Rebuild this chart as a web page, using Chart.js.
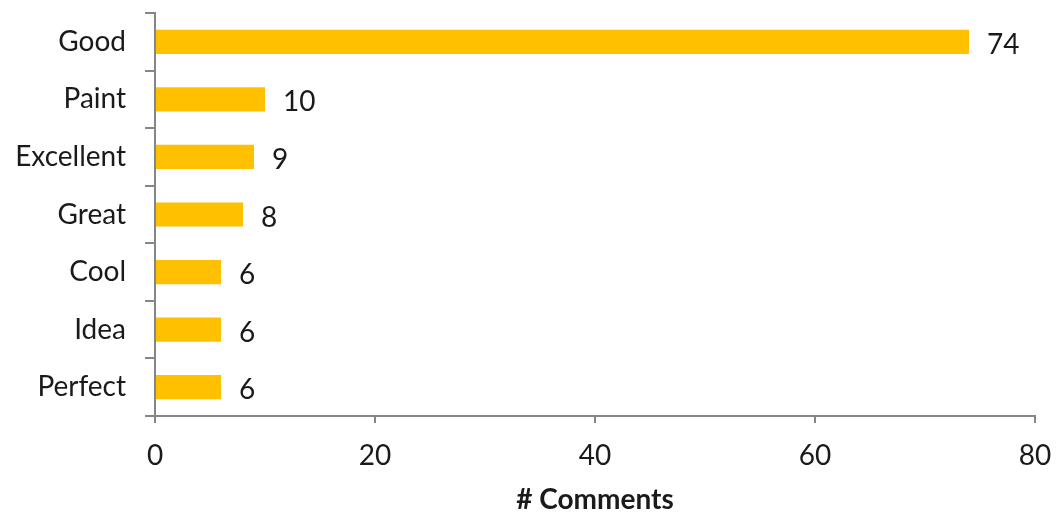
<!DOCTYPE html>
<html>
<head>
<meta charset="utf-8">
<script src="https://cdn.jsdelivr.net/npm/chart.js@4"></script>
<style>
  html, body { margin: 0; padding: 0; background: #ffffff; }
  #wrap { width: 1056px; height: 514px; position: relative; }
</style>
</head>
<body>
<div id="wrap"><canvas id="c" width="1056" height="514"></canvas></div>
<script>
const categories = ["Good", "Paint", "Excellent", "Great", "Cool", "Idea", "Perfect"];
const commentCounts = [74, 10, 9, 8, 6, 6, 6];
const xTickValues = [0, 20, 40, 60, 80];
const xAxisTitle = "# Comments";

const FONT = "Lato, 'Open Sans', sans-serif";
const TEXT = "#1a1a1a";
const AXIS = "#868686";

const dataLabels = {
  id: "dataLabels",
  afterDatasetsDraw(chart) {
    const ctx = chart.ctx;
    const meta = chart.getDatasetMeta(0);
    ctx.save();
    ctx.font = "28px " + FONT;
    ctx.fillStyle = TEXT;
    ctx.textAlign = "left";
    ctx.textBaseline = "middle";
    meta.data.forEach((bar, i) => {
      ctx.fillText(String(commentCounts[i]), bar.x + 18, bar.y + 3);
    });
    ctx.restore();
  }
};

new Chart(document.getElementById("c"), {
  type: "bar",
  data: {
    labels: categories,
    datasets: [{
      data: commentCounts,
      backgroundColor: "#FFC000",
      borderWidth: 0,
      barPercentage: 0.42,
      categoryPercentage: 1.0
    }]
  },
  options: {
    indexAxis: "y",
    responsive: false,
    animation: false,
    events: [],
    layout: { padding: { top: 13, right: 21, left: 0, bottom: 0 } },
    plugins: {
      legend: { display: false },
      tooltip: { enabled: false }
    },
    scales: {
      x: {
        min: 0,
        max: 80,
        afterBuildTicks(scale) { scale.ticks = xTickValues.map(v => ({ value: v })); },
        afterFit(scale) { scale.height = 98; scale.paddingLeft = 0; scale.paddingRight = 0; },
        border: { display: true, color: AXIS, width: 2 },
        grid: { drawOnChartArea: false, drawTicks: true, tickLength: 7, color: AXIS, lineWidth: 2 },
        ticks: { font: { family: FONT, size: 28 }, color: TEXT, padding: 16, maxRotation: 0 },
        title: {
          display: true,
          text: xAxisTitle,
          font: { family: FONT, size: 28, weight: "bold", lineHeight: 1.0 },
          color: TEXT,
          padding: { top: 0, bottom: 0 }
        }
      },
      y: {
        afterFit(scale) { scale.width = 155; scale.paddingTop = 0; scale.paddingBottom = 0; },
        border: { display: true, color: AXIS, width: 2 },
        grid: { drawOnChartArea: false, drawTicks: true, tickLength: 10, color: AXIS, lineWidth: 2, offset: true },
        ticks: { font: { family: FONT, size: 28 }, color: TEXT, padding: 19 }
      }
    }
  },
  plugins: [dataLabels]
});
</script>
</body>
</html>
